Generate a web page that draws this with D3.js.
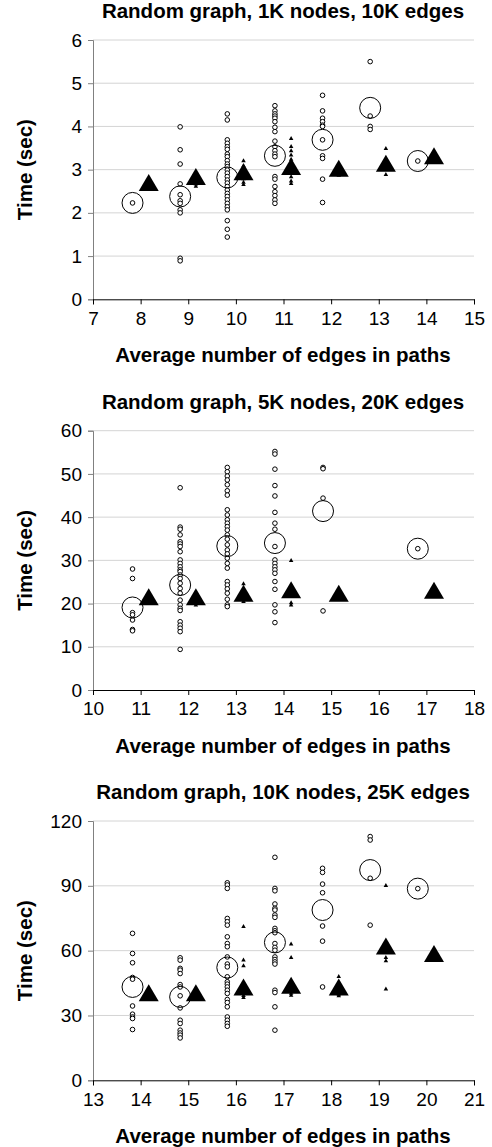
<!DOCTYPE html>
<html>
<head>
<meta charset="utf-8">
<script src="https://cdn.jsdelivr.net/npm/d3@7"></script>
<style>
  body { margin: 0; background: #fff; }
  text { font-family: "Liberation Sans", Arial, sans-serif; fill: #000; }
</style>
</head>
<body>
<svg id="chart" width="492" height="1147"></svg>
<script>
// ---- panel 1: 1K nodes, 10K edges ----
const p1Title = "Random graph, 1K nodes, 10K edges";
const p1XTicks = [7, 8, 9, 10, 11, 12, 13, 14, 15];
const p1YTicks = [0, 1, 2, 3, 4, 5, 6];
const p1CircleX = [7.83, 8.83, 9.82, 10.82, 11.82, 12.82, 13.82];
const p1CircleRuns = [
  [2.23],
  [3.99, 3.46, 3.13, 2.67, 2.42, 2.28, 2.22, 2.07, 2.0, 0.95, 0.89],
  [4.29, 4.15, 3.69, 3.61, 3.53, 3.47, 3.36, 3.30, 3.21, 3.13, 3.07, 2.99, 2.92, 2.84, 2.76,
   2.69, 2.61, 2.53, 2.45, 2.38, 2.30, 2.22, 2.14, 2.07, 1.82, 1.62, 1.44],
  [4.48, 4.36, 4.29, 4.24, 4.19, 4.11, 3.98, 3.88, 3.66, 3.53, 3.44, 3.36, 3.30, 2.84, 2.78,
   2.61, 2.49, 2.40, 2.30, 2.22],
  [4.72, 4.36, 4.19, 4.11, 4.03, 4.0, 3.69, 3.32, 3.26, 2.78, 2.24],
  [5.50, 4.24, 4.0, 3.93],
  [3.2]
];
const p1CircleMean = [2.23, 2.38, 2.82, 3.32, 3.69, 4.43, 3.2];
const p1TriX = [8.17, 9.16, 10.16, 11.16, 12.16, 13.15, 14.16];
const p1TriRuns = [
  [],
  [2.63, 2.68, 2.75],
  [3.22, 3.1, 3.0, 2.9, 2.8, 2.72, 2.67],
  [3.73, 3.55, 3.45, 3.35, 3.25, 3.15, 2.95, 2.85, 2.75, 2.69],
  [2.88, 2.92],
  [3.5, 2.9],
  []
];
const p1TriMean = [2.7, 2.84, 2.95, 3.07, 3.03, 3.15, 3.32];

// ---- panel 2: 5K nodes, 20K edges ----
const p2Title = "Random graph, 5K nodes, 20K edges";
const p2XTicks = [10, 11, 12, 13, 14, 15, 16, 17, 18];
const p2YTicks = [0, 10, 20, 30, 40, 50, 60];
const p2CircleX = [10.83, 11.83, 12.82, 13.82, 14.83, 16.82];
const p2CircleRuns = [
  [28.0, 25.8, 17.9, 17.4, 16.2, 14.0, 13.7],
  [46.8, 37.7, 37.2, 35.9, 34.3, 33.8, 33.2, 32.0, 30.1, 29.3, 28.5, 27.8, 27.4, 26.6, 25.8,
   24.7, 23.5, 22.4, 20.8, 19.7, 18.9, 18.4, 15.8, 15.0, 14.3, 13.5, 9.4],
  [51.5, 50.5, 49.5, 48.6, 47.5, 46.1, 45.1, 41.7, 40.5, 39.4, 38.6, 37.8, 37.0, 35.9, 34.9,
   33.6, 32.4, 31.5, 30.5, 29.3, 28.2, 25.1, 24.3, 23.4, 22.4, 21.0, 19.7, 19.3],
  [55.2, 54.6, 51.1, 47.3, 44.9, 41.1, 38.6, 37.2, 33.2, 30.1, 29.3, 28.5, 27.8, 27.0, 25.1,
   23.3, 19.7, 18.1, 15.6],
  [51.5, 51.2, 44.4, 18.3],
  [32.7]
];
const p2CircleMean = [19.1, 24.3, 33.3, 34.0, 41.4, 32.7];
const p2TriX = [11.17, 12.16, 13.16, 14.16, 15.16, 17.16];
const p2TriRuns = [
  [],
  [19.8, 20.3],
  [24.7, 20.6, 21.0],
  [30.1, 19.8, 20.3],
  [],
  []
];
const p2TriMean = [21.6, 21.6, 22.4, 23.2, 22.4, 23.1];

// ---- panel 3: 10K nodes, 25K edges ----
const p3Title = "Random graph, 10K nodes, 25K edges";
const p3XTicks = [13, 14, 15, 16, 17, 18, 19, 20, 21];
const p3YTicks = [0, 30, 60, 90, 120];
const p3CircleX = [13.83, 14.83, 15.82, 16.82, 17.82, 18.82, 19.82];
const p3CircleRuns = [
  [68.0, 58.7, 54.4, 47.6, 46.8, 34.4, 30.6, 29.3, 28.6, 23.5],
  [56.7, 55.6, 51.8, 51.0, 49.4, 44.3, 43.2, 39.1, 33.5, 27.8, 26.3, 23.2, 21.9, 20.9, 19.6],
  [91.4, 90.4, 88.8, 74.9, 73.4, 71.8, 66.4, 63.3, 61.8, 57.1, 53.8, 52.5, 47.9, 45.6, 44.5,
   43.2, 41.7, 40.2, 37.4, 36.0, 34.0, 29.3, 27.8, 26.3, 25.0],
  [103.2, 88.8, 87.7, 81.6, 79.6, 78.8, 76.5, 75.4, 70.3, 69.2, 68.3, 63.3, 61.5, 60.2, 57.1,
   55.9, 54.8, 53.8, 41.7, 40.6, 34.0, 23.2],
  [98.1, 96.2, 90.8, 86.8, 71.4, 64.4, 43.2],
  [112.8, 111.2, 93.5, 71.8],
  [88.7]
];
const p3CircleMean = [43.2, 38.6, 52.2, 63.8, 78.8, 97.3, 88.7];
const p3TriX = [14.17, 15.16, 16.16, 17.16, 18.16, 19.15, 20.16];
const p3TriRuns = [
  [],
  [],
  [71.4, 55.9, 53.3, 39.5, 38.6],
  [63.3, 57.1, 40.5, 39.6],
  [48.3, 40.0, 39.4],
  [90.4, 57.1, 55.6, 42.5],
  []
];
const p3TriMean = [40.5, 40.5, 43.2, 44.0, 43.2, 62.1, 58.7];

const svg = d3.select("#chart");

const left = 93, right = 474, plotH = 259.3;
const tickFont = 19, titleFont = 20.5;

function triPath(w, h) {
  // triangle centred on its bounding box, like the spreadsheet markers
  return `M0,${-h / 2}L${w / 2},${h / 2}L${-w / 2},${h / 2}Z`;
}

function drawPanel(top, title, xTicks, yTicks, cx, cRuns, cMean, tx, tRuns, tMean) {
  const g = svg.append("g");
  const x = d3.scaleLinear()
    .domain([xTicks[0], xTicks[xTicks.length - 1]])
    .range([left, right]);
  const y = d3.scaleLinear()
    .domain([0, yTicks[yTicks.length - 1]])
    .range([top + plotH, top]);

  // grid
  g.append("g").selectAll("line")
    .data(yTicks.slice(1))
    .join("line")
    .attr("x1", left).attr("x2", right)
    .attr("y1", d => y(d)).attr("y2", d => y(d))
    .attr("stroke", "#d4d4d4").attr("stroke-width", 1);

  // y axis
  const yAxis = g.append("g")
    .attr("transform", `translate(${left},0)`)
    .call(d3.axisLeft(y).tickValues(yTicks).tickSize(5).tickPadding(6).tickFormat(d3.format("d")));
  yAxis.select(".domain").attr("stroke", "#808080");
  yAxis.selectAll(".tick line").attr("stroke", "#808080");
  yAxis.selectAll("text")
    .attr("font-size", tickFont)
    .attr("font-family", "Liberation Sans, Arial, sans-serif");

  // x axis
  const xAxis = g.append("g")
    .attr("transform", `translate(0,${top + plotH})`)
    .call(d3.axisBottom(x).tickValues(xTicks).tickSize(5).tickPadding(7).tickFormat(d3.format("d")));
  xAxis.select(".domain").attr("stroke", "#000");
  xAxis.selectAll("text")
    .attr("font-size", tickFont)
    .attr("font-family", "Liberation Sans, Arial, sans-serif");

  // titles
  g.append("text")
    .attr("x", 283).attr("y", top - 22)
    .attr("text-anchor", "middle")
    .attr("font-size", titleFont).attr("font-weight", "bold")
    .text(title);
  g.append("text")
    .attr("x", 283).attr("y", top + plotH + 63)
    .attr("text-anchor", "middle")
    .attr("font-size", titleFont).attr("font-weight", "bold")
    .text("Average number of edges in paths");
  g.append("text")
    .attr("transform", `translate(32,${top + plotH / 2}) rotate(-90)`)
    .attr("text-anchor", "middle")
    .attr("font-size", titleFont).attr("font-weight", "bold")
    .text("Time (sec)");

  // individual runs (small open circles)
  const runPts = cRuns.flatMap((vals, i) => vals.map(v => ({ x: cx[i], v })));
  g.append("g").selectAll("circle")
    .data(runPts)
    .join("circle")
    .attr("cx", d => x(d.x)).attr("cy", d => y(d.v))
    .attr("r", 2.3)
    .attr("fill", "#fff").attr("stroke", "#000").attr("stroke-width", 1);

  // means (large open circles)
  g.append("g").selectAll("circle")
    .data(cMean)
    .join("circle")
    .attr("cx", (d, i) => x(cx[i])).attr("cy", d => y(d))
    .attr("r", 10.5)
    .attr("fill", "none").attr("stroke", "#000").attr("stroke-width", 1);

  // individual runs (small filled triangles)
  const triPts = tRuns.flatMap((vals, i) => vals.map(v => ({ x: tx[i], v })));
  g.append("g").selectAll("path")
    .data(triPts)
    .join("path")
    .attr("transform", d => `translate(${x(d.x)},${y(d.v)})`)
    .attr("d", triPath(4.5, 4))
    .attr("fill", "#000");

  // means (large filled triangles)
  g.append("g").selectAll("path")
    .data(tMean)
    .join("path")
    .attr("transform", (d, i) => `translate(${x(tx[i])},${y(d)})`)
    .attr("d", triPath(20, 17))
    .attr("fill", "#000");
}

drawPanel(40, p1Title, p1XTicks, p1YTicks, p1CircleX, p1CircleRuns, p1CircleMean, p1TriX, p1TriRuns, p1TriMean);
drawPanel(430.7, p2Title, p2XTicks, p2YTicks, p2CircleX, p2CircleRuns, p2CircleMean, p2TriX, p2TriRuns, p2TriMean);
drawPanel(821, p3Title, p3XTicks, p3YTicks, p3CircleX, p3CircleRuns, p3CircleMean, p3TriX, p3TriRuns, p3TriMean);
</script>
</body>
</html>
